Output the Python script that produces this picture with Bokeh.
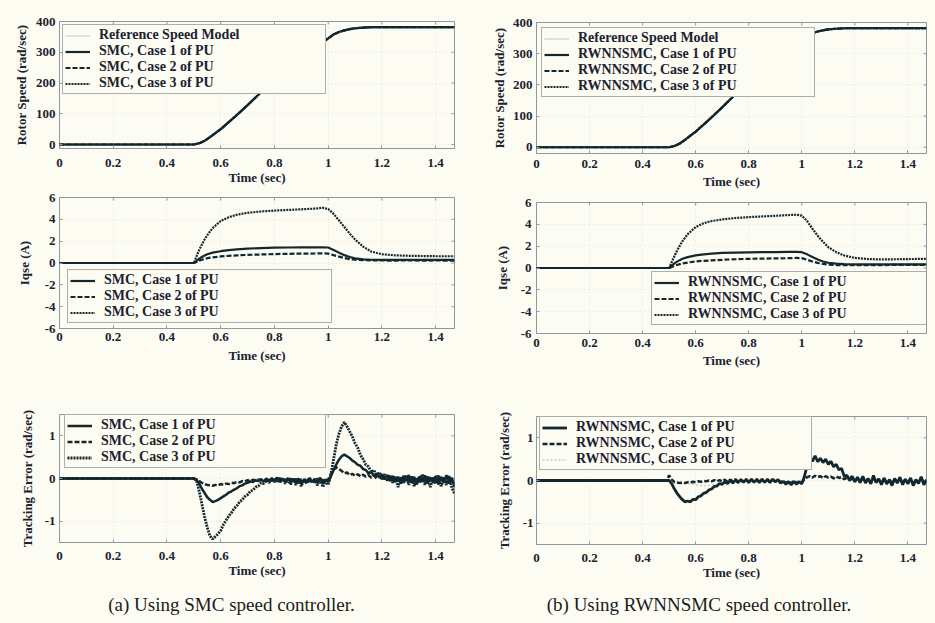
import numpy as np
from bokeh.plotting import figure
from bokeh.models import FixedTicker, Div, CustomJSTickFormatter, Range1d
from bokeh.layouts import column, row
from bokeh.embed import file_html
from bokeh.resources import INLINE

# ---------------- data ----------------
x_max = 1.47
x_ticks = [0, 0.2, 0.4, 0.6, 0.8, 1.0, 1.2, 1.4]
x_tick_labels = ["0", "0.2", "0.4", "0.6", "0.8", "1", "1.2", "1.4"]
speed_ticks = [0, 100, 200, 300, 400]
speed_tick_labels = ["0", "100", "200", "300", "400"]
iq_ticks = [-6, -4, -2, 0, 2, 4, 6]
iq_tick_labels = ["-6", "-4", "-2", "0", "2", "4", "6"]
err_ticks = [-1, 0, 1]
err_tick_labels = ["-1", "0", "1"]

# rotor speed (rad/sec)
t_speed = [0, 0.50, 0.52, 0.54, 0.56, 0.58, 0.60, 0.65, 0.70, 0.75, 0.80, 0.85, 0.90,
           0.95, 1.00, 1.02, 1.04, 1.06, 1.08, 1.10, 1.13, 1.16, 1.20, 1.30, 1.47]
speed_ref = [0, 0, 4, 12, 24, 37, 50, 88, 128, 170, 208, 245, 281,
             315, 345, 358, 366, 371, 375, 378, 380, 381.5, 382, 382, 382]
speed_case = [0, 0, 4, 12, 24, 37, 50, 88, 128, 170, 208, 245, 281,
              315, 345, 358, 366, 371, 375, 378, 380, 381.5, 382, 382, 382]

# Iqse (A)
t_iq = [0, 0.50, 0.51, 0.52, 0.53, 0.54, 0.55, 0.57, 0.60, 0.63, 0.66, 0.70, 0.75, 0.80,
        0.85, 0.90, 0.95, 0.98, 1.00, 1.02, 1.04, 1.06, 1.08, 1.10, 1.13, 1.16, 1.20,
        1.25, 1.30, 1.35, 1.40, 1.47]
iq_smc_1 = [0, 0, 0.2, 0.4, 0.55, 0.68, 0.8, 0.95, 1.08, 1.18, 1.25, 1.32, 1.37, 1.4,
            1.42, 1.43, 1.44, 1.44, 1.42, 1.2, 0.95, 0.72, 0.55, 0.42, 0.33, 0.3, 0.28,
            0.28, 0.28, 0.28, 0.28, 0.28]
iq_smc_2 = [0, 0, 0.1, 0.22, 0.3, 0.38, 0.44, 0.52, 0.6, 0.66, 0.7, 0.74, 0.78, 0.82,
            0.84, 0.86, 0.87, 0.88, 0.86, 0.72, 0.58, 0.46, 0.36, 0.3, 0.26, 0.24, 0.23,
            0.22, 0.24, 0.22, 0.23, 0.22]
iq_smc_3 = [0, 0, 0.6, 1.2, 1.7, 2.15, 2.55, 3.2, 3.85, 4.2, 4.42, 4.6, 4.72, 4.8,
            4.86, 4.92, 4.98, 5.05, 4.95, 4.5, 3.9, 3.3, 2.7, 2.15, 1.5, 1.05, 0.8,
            0.7, 0.66, 0.64, 0.62, 0.62]
iq_rw_1 = [0, 0, 0.22, 0.42, 0.58, 0.72, 0.84, 1.0, 1.15, 1.25, 1.32, 1.38, 1.41, 1.43,
           1.45, 1.46, 1.47, 1.47, 1.45, 1.25, 1.0, 0.78, 0.6, 0.48, 0.4, 0.36, 0.34,
           0.33, 0.34, 0.33, 0.34, 0.34]
iq_rw_2 = [0, 0, 0.1, 0.2, 0.28, 0.35, 0.42, 0.5, 0.6, 0.66, 0.7, 0.75, 0.8, 0.84,
           0.86, 0.88, 0.9, 0.92, 0.9, 0.75, 0.6, 0.47, 0.38, 0.32, 0.27, 0.25, 0.25,
           0.26, 0.27, 0.28, 0.28, 0.29]
iq_rw_3 = [0, 0, 0.55, 1.1, 1.6, 2.05, 2.45, 3.1, 3.75, 4.1, 4.3, 4.45, 4.58, 4.66,
           4.72, 4.78, 4.85, 4.88, 4.8, 4.3, 3.6, 2.95, 2.4, 1.9, 1.45, 1.15, 0.92,
           0.82, 0.78, 0.8, 0.82, 0.84]

# tracking error (rad/sec): t = 0, 0.49, then 0.50 ... 1.47 every 0.01
t_err = [0.0, 0.49] + [round(0.50 + 0.01 * i, 2) for i in range(98)]
err_smc_1 = [0.0, 0.0,
    0.00, -0.03, -0.12, -0.24, -0.34, -0.44, -0.50, -0.55, -0.53, -0.50,
    -0.46, -0.42, -0.38, -0.33, -0.30, -0.26, -0.23, -0.18, -0.16, -0.12,
    -0.10, -0.07, -0.08, -0.04, -0.06, -0.02, -0.07, 0.00, -0.06, 0.01,
    -0.05, 0.02, -0.07, -0.01, -0.08, 0.01, -0.09, -0.02, -0.10, 0.00,
    -0.12, -0.03, -0.09, 0.01, -0.08, -0.01, -0.10, 0.02, -0.12, -0.02,
    -0.08, 0.05, 0.20, 0.33, 0.44, 0.52, 0.56, 0.52, 0.48, 0.42,
    0.38, 0.32, 0.30, 0.22, 0.20, 0.12, 0.15, 0.06, 0.12, 0.02,
    0.10, -0.02, 0.08, -0.06, 0.06, -0.08, 0.04, -0.12, 0.06, -0.06,
    0.08, -0.10, 0.04, -0.14, 0.05, -0.08, 0.07, -0.12, 0.03, -0.10,
    0.06, -0.14, 0.04, -0.10, 0.08, -0.12, 0.02, -0.20]
err_smc_2 = [0.0, 0.0,
    0.00, -0.02, -0.06, -0.10, -0.13, -0.15, -0.16, -0.17, -0.15, -0.16,
    -0.13, -0.15, -0.12, -0.13, -0.10, -0.11, -0.08, -0.09, -0.06, -0.07,
    -0.04, -0.06, -0.03, -0.05, -0.02, -0.04, -0.01, -0.05, 0.01, -0.06,
    0.00, -0.07, 0.01, -0.06, -0.02, -0.08, 0.00, -0.07, -0.01, -0.09,
    -0.02, -0.08, 0.00, -0.07, -0.02, -0.09, 0.00, -0.08, -0.03, -0.10,
    -0.02, 0.10, 0.20, 0.26, 0.22, 0.18, 0.12, 0.14, 0.08, 0.11,
    0.06, 0.10, 0.05, 0.09, 0.04, 0.08, 0.02, 0.07, 0.00, 0.06,
    -0.02, 0.05, -0.04, 0.04, -0.06, 0.03, -0.08, 0.02, -0.06, 0.04,
    -0.09, 0.01, -0.07, 0.03, -0.10, 0.02, -0.06, 0.04, -0.09, 0.01,
    -0.07, 0.05, -0.08, 0.02, -0.10, 0.03, -0.06, -0.12]
err_smc_3 = [0.0, 0.0,
    0.00, -0.05, -0.30, -0.60, -0.90, -1.15, -1.35, -1.42, -1.36, -1.30,
    -1.22, -1.08, -0.98, -0.88, -0.80, -0.70, -0.64, -0.55, -0.50, -0.42,
    -0.38, -0.30, -0.27, -0.20, -0.18, -0.10, -0.12, -0.04, -0.10, 0.00,
    -0.08, 0.02, -0.10, 0.00, -0.12, -0.02, -0.14, 0.00, -0.15, -0.04,
    -0.18, -0.02, -0.12, 0.02, -0.10, -0.02, -0.16, 0.00, -0.20, -0.05,
    -0.15, 0.10, 0.45, 0.80, 1.05, 1.22, 1.32, 1.22, 1.10, 0.98,
    0.82, 0.72, 0.55, 0.45, 0.32, 0.28, 0.15, 0.20, 0.05, 0.15,
    -0.02, 0.10, -0.05, 0.08, -0.10, 0.05, -0.20, 0.02, -0.12, 0.08,
    -0.15, 0.05, -0.18, 0.00, -0.10, 0.10, -0.15, 0.05, -0.20, 0.02,
    -0.12, 0.08, -0.18, 0.00, -0.15, 0.06, -0.22, -0.35]
err_rw_1 = [0.0, 0.0,
    0.00, -0.08, -0.20, -0.30, -0.38, -0.45, -0.50, -0.48, -0.50, -0.44,
    -0.45, -0.38, -0.36, -0.30, -0.28, -0.22, -0.20, -0.14, -0.13, -0.07,
    -0.09, -0.03, -0.07, 0.00, -0.06, 0.01, -0.05, 0.02, -0.04, 0.02,
    -0.05, 0.03, -0.04, 0.02, -0.05, 0.03, -0.04, 0.02, -0.05, 0.03,
    -0.03, 0.02, -0.06, -0.02, -0.09, -0.03, -0.10, -0.02, -0.09, -0.03,
    -0.08, 0.10, 0.35, 0.55, 0.45, 0.58, 0.44, 0.52, 0.42, 0.50,
    0.38, 0.45, 0.32, 0.38, 0.25, 0.28, 0.10, 0.12, 0.02, 0.10,
    -0.03, 0.08, -0.05, 0.10, -0.06, 0.05, -0.08, 0.12, -0.05, 0.04,
    -0.10, 0.06, -0.08, 0.02, -0.12, 0.05, -0.06, 0.08, -0.10, 0.03,
    -0.08, 0.06, -0.12, 0.02, -0.07, 0.09, -0.10, 0.02]
err_rw_2 = [0.0, 0.0,
    0.12, 0.02, -0.04, -0.05, -0.06, -0.05, -0.06, -0.04, -0.05, -0.03,
    -0.04, -0.02, -0.03, -0.01, -0.02, 0.00, -0.02, 0.01, -0.02, 0.01,
    -0.02, 0.02, -0.03, 0.02, -0.02, 0.03, -0.03, 0.02, -0.02, 0.03,
    -0.03, 0.02, -0.03, 0.03, -0.02, 0.02, -0.03, 0.03, -0.02, 0.02,
    -0.03, 0.01, -0.04, -0.01, -0.06, -0.02, -0.07, -0.01, -0.06, -0.02,
    -0.05, 0.03, 0.08, 0.10, 0.07, 0.11, 0.08, 0.10, 0.06, 0.10,
    0.07, 0.09, 0.05, 0.09, 0.06, 0.08, 0.03, 0.07, 0.00, 0.06,
    -0.02, 0.05, -0.04, 0.06, -0.03, 0.04, -0.06, 0.05, -0.04, 0.03,
    -0.07, 0.04, -0.05, 0.02, -0.08, 0.03, -0.04, 0.05, -0.07, 0.02,
    -0.05, 0.04, -0.08, 0.01, -0.05, 0.06, -0.07, -0.02]
err_rw_3 = [0.0, 0.0,
    0.00, -0.01, -0.02, -0.03, -0.04, -0.05, -0.06, -0.07, -0.08, -0.09,
    -0.10, -0.11, -0.11, -0.12, -0.12, -0.12, -0.11, -0.10, -0.09, -0.08,
    -0.06, -0.05, -0.04, -0.03, -0.02, -0.02, -0.01, 0.00, -0.01, 0.00,
    -0.01, 0.00, -0.01, 0.00, -0.01, 0.00, -0.01, 0.00, -0.01, 0.00,
    -0.01, 0.00, -0.01, 0.00, -0.01, 0.00, -0.01, 0.00, -0.01, 0.00,
    0.00, 0.02, 0.05, 0.08, 0.10, 0.10, 0.10, 0.09, 0.09, 0.08,
    0.08, 0.07, 0.07, 0.06, 0.06, 0.05, 0.04, 0.03, 0.02, 0.02,
    0.01, 0.01, 0.00, 0.00, 0.00, 0.00, 0.00, 0.00, 0.00, 0.00,
    0.00, 0.00, 0.00, 0.00, 0.00, 0.00, 0.00, 0.00, 0.00, 0.00,
    0.00, 0.00, 0.00, 0.00, 0.00, 0.00, 0.00, 0.00]

# ---------------- style ----------------
BG = "#fdfcf3"
INK = "#13282e"
TXT = "#1b2230"
FRAME = "#8e98a0"
LIGHT = "#c4c6c6"
FONT = "Liberation Serif"
FS = "13px"
LFS = "14px"


def fmt(vals, labs):
    return CustomJSTickFormatter(args=dict(vals=vals, labs=labs), code="""
        for (let i = 0; i < vals.length; i++) {
            if (Math.abs(vals[i] - tick) < 1e-9) { return labs[i]; }
        }
        return "";
    """)


def make_fig(w, h, mbl, mbr, mbt, mbb, yr, yt, ytl, ylabel, ystand, xstand, xlabstand, ylabstand):
    p = figure(width=w, height=h, x_range=Range1d(0, x_max), y_range=Range1d(*yr),
               output_backend="svg", toolbar_location=None,
               min_border_left=mbl, min_border_right=mbr, min_border_top=mbt, min_border_bottom=mbb)
    p.background_fill_color = BG
    p.border_fill_color = BG
    p.outline_line_color = FRAME
    p.outline_line_width = 1
    p.xaxis.ticker = FixedTicker(ticks=x_ticks)
    p.xaxis.formatter = fmt(x_ticks, x_tick_labels)
    p.yaxis.ticker = FixedTicker(ticks=yt)
    p.yaxis.formatter = fmt(yt, ytl)
    p.xaxis.axis_label = "Time (sec)"
    p.yaxis.axis_label = ylabel
    for ax in (p.xaxis[0], p.yaxis[0]):
        ax.axis_line_color = None
        ax.major_tick_in = 3
        ax.major_tick_out = 0
        ax.major_tick_line_color = FRAME
        ax.minor_tick_line_color = None
        ax.major_label_text_font = FONT
        ax.major_label_text_font_size = FS
        ax.major_label_text_font_style = "bold"
        ax.major_label_text_color = TXT
        ax.axis_label_text_font = FONT
        ax.axis_label_text_font_size = FS
        ax.axis_label_text_font_style = "bold"
        ax.axis_label_text_color = TXT
    p.yaxis[0].major_label_standoff = ystand
    p.xaxis[0].major_label_standoff = xstand
    p.xaxis[0].axis_label_standoff = xlabstand
    p.yaxis[0].axis_label_standoff = ylabstand
    p.grid.grid_line_color = "#d3d6d8"
    p.grid.grid_line_dash = "1 3"
    p.grid.grid_line_alpha = 0.7
    # mirrored inner ticks on the top and right edges of the box
    p.scatter(x=x_ticks, y=[yr[1]] * len(x_ticks), marker="dash", angle=np.pi / 2,
              size=6, line_color=FRAME, line_width=1)
    p.scatter(x=[x_max] * len(yt), y=yt, marker="dash", size=6, line_color=FRAME, line_width=1)
    return p


def style_legend(p, loc, label_width, margin=0):
    lg = p.legend[0]
    lg.location = loc
    lg.margin = margin
    lg.padding = 2
    lg.spacing = 0
    lg.label_height = 13
    lg.glyph_height = 13
    lg.glyph_width = 25
    lg.label_standoff = 9
    lg.label_width = label_width
    lg.label_text_font = FONT
    lg.label_text_font_size = LFS
    lg.label_text_font_style = "bold"
    lg.label_text_color = TXT
    lg.border_line_color = "#5a646c"
    lg.border_line_width = 1
    lg.background_fill_color = BG
    lg.background_fill_alpha = 1.0


# ---------------- speed plots ----------------
p1 = make_fig(463, 190, 57, 9, 21, 42, (-13, 400), speed_ticks, speed_tick_labels,
              "Rotor Speed (rad/sec)", 4, 10, 0, 4)
p1.line(t_speed, speed_ref, color=LIGHT, line_width=1, legend_label="Reference Speed Model")
p1.line(t_speed, speed_case, color=INK, line_width=2.2, legend_label="SMC, Case 1 of PU")
p1.line(t_speed, speed_case, color=INK, line_width=2.2, line_dash="5 2", legend_label="SMC, Case 2 of PU")
p1.line(t_speed, speed_case, color=INK, line_width=2.2, line_dash="2 1", legend_label="SMC, Case 3 of PU")
style_legend(p1, "top_left", 224, margin=3)

p2 = make_fig(472, 193, 69, 9, 22, 40, (-20, 400), speed_ticks, speed_tick_labels,
              "Rotor Speed (rad/sec)", 4, 6, 3, 3)
p2.line(t_speed, speed_ref, color=LIGHT, line_width=1, legend_label="Reference Speed Model")
p2.line(t_speed, speed_case, color=INK, line_width=2.2, legend_label="RWNNSMC, Case 1 of PU")
p2.line(t_speed, speed_case, color=INK, line_width=2.2, line_dash="5 2", legend_label="RWNNSMC, Case 2 of PU")
p2.line(t_speed, speed_case, color=INK, line_width=2.2, line_dash="2 1", legend_label="RWNNSMC, Case 3 of PU")
style_legend(p2, (5, 56), 234)

# ---------------- Iqse plots ----------------
p3 = make_fig(463, 195, 59, 8, 7, 57, (-6, 6), iq_ticks, iq_tick_labels,
              "Iqse (A)", 4, 4, 4, 10)
p3.line(t_iq, iq_smc_1, color=INK, line_width=2.2, legend_label="SMC, Case 1 of PU")
p3.line(t_iq, iq_smc_2, color=INK, line_width=2.2, line_dash="5 2", legend_label="SMC, Case 2 of PU")
p3.line(t_iq, iq_smc_3, color=INK, line_width=2.2, line_dash="2 1", legend_label="SMC, Case 3 of PU")
style_legend(p3, (8, 5), 225)

p4 = make_fig(472, 195, 70, 9, 9, 55, (-6, 6), iq_ticks, iq_tick_labels,
              "Iqse (A)", 5, 5, 3, 8)
p4.line(t_iq, iq_rw_1, color=INK, line_width=2.2, legend_label="RWNNSMC, Case 1 of PU")
p4.line(t_iq, iq_rw_2, color=INK, line_width=2.2, line_dash="5 2", legend_label="RWNNSMC, Case 2 of PU")
p4.line(t_iq, iq_rw_3, color=INK, line_width=2.2, line_dash="2 1", legend_label="RWNNSMC, Case 3 of PU")
style_legend(p4, (115, 8), 240)

# ---------------- tracking error plots ----------------
p5 = make_fig(463, 197, 59, 7, 29, 40, (-1.5, 1.5), err_ticks, err_tick_labels,
              "Tracking Error (rad/sec)", 4, 9, 0, 7)
p5.line(t_err, err_smc_1, color=INK, line_width=2.5, legend_label="SMC, Case 1 of PU")
p5.line(t_err, err_smc_2, color=INK, line_width=2.5, line_dash="5 2", legend_label="SMC, Case 2 of PU")
p5.line(t_err, err_smc_3, color=INK, line_width=2.8, line_dash="2 1", legend_label="SMC, Case 3 of PU")
style_legend(p5, (5, 74), 222)

p6 = make_fig(472, 196, 73, 9, 28, 40, (-1.5, 1.5), err_ticks, err_tick_labels,
              "Tracking Error (rad/sec)", 3, 9, 0, 8)
p6.line(t_err, err_rw_3, color="#c9cccc", line_width=1.5, line_dash="2 2", legend_label="RWNNSMC, Case 3 of PU")
p6.line(t_err, err_rw_2, color=INK, line_width=2.5, line_dash="5 2", legend_label="RWNNSMC, Case 2 of PU")
p6.line(t_err, err_rw_1, color=INK, line_width=2.8, legend_label="RWNNSMC, Case 1 of PU")
style_legend(p6, (3, 74), 233)
lg6 = p6.legend[0]
lg6.items = [lg6.items[2], lg6.items[1], lg6.items[0]]


def caption(text, w, h, pad):
    style = (f"width:{w}px; text-align:center; font-family:'Liberation Serif'; font-size:19px; "
             f"color:#1b1b1b; padding-top:{pad}px; line-height:20px; margin:0;")
    return Div(text=f"<div style=\"{style}\">{text}</div>", width=w, height=h, margin=0,
               styles={"background-color": BG})


capA = caption("(a) Using SMC speed controller.", 463, 41, 13)
capB = caption("(b) Using RWNNSMC speed controller.", 472, 39, 11)

layout = row(column(p1, p3, p5, capA), column(p2, p4, p6, capB))
layout.styles = {"background-color": BG}

html = file_html(layout, INLINE)
html = html.replace("<body>", f"<body style=\"background-color:{BG};\">", 1)
open("out.html", "w").write(html)
